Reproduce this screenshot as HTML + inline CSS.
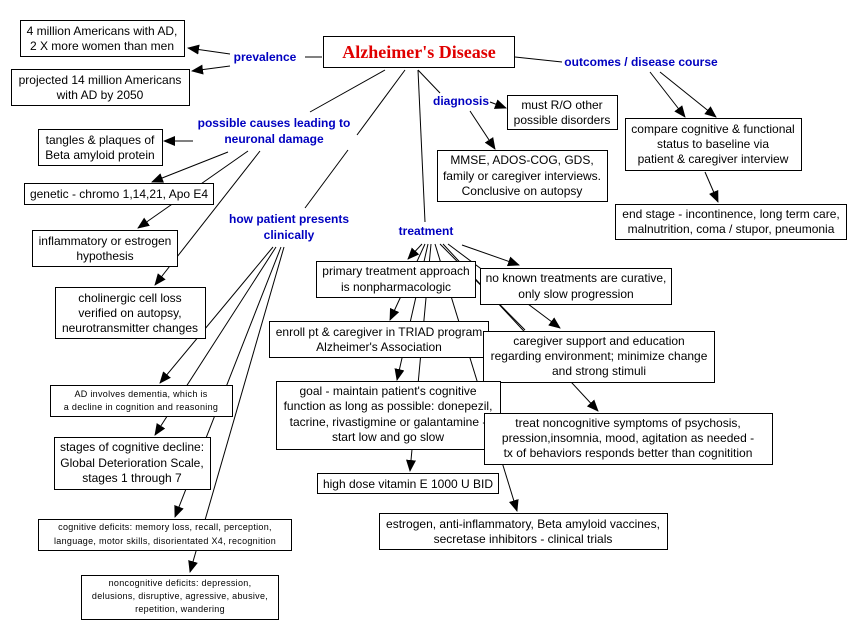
<!DOCTYPE html>
<html><head><meta charset="utf-8"><style>
html,body{margin:0;padding:0;background:#fff}
svg{display:block}
text{font-family:"Liberation Sans",sans-serif;font-size:12px;fill:#000;text-anchor:middle}
.s{font-size:9px;letter-spacing:0.3px}
.l{fill:#0000c0;font-weight:bold;font-size:12px}
rect{fill:#fff;stroke:#000;stroke-width:1}
line{stroke:#000;stroke-width:1}
.a{marker-end:url(#m)}
</style></head><body>
<svg width="849" height="639" viewBox="0 0 849 639" xmlns="http://www.w3.org/2000/svg">
<defs><marker id="m" markerWidth="12" markerHeight="10" refX="11" refY="5" orient="auto" markerUnits="userSpaceOnUse"><path d="M0,0 L12,5 L0,10 z" fill="#000"/></marker></defs>
<!-- lines -->
<line x1="305" y1="57" x2="322" y2="57"/>
<line class="a" x1="230" y1="54" x2="188" y2="48"/>
<line class="a" x1="230" y1="66" x2="192" y2="71"/>
<line x1="515" y1="57" x2="562" y2="62"/>
<line class="a" x1="650" y1="72" x2="685" y2="117"/>
<line class="a" x1="660" y1="72" x2="716" y2="117"/>
<line class="a" x1="705" y1="172" x2="718" y2="202"/>
<line x1="418" y1="70" x2="440" y2="93"/>
<line class="a" x1="490" y1="102" x2="506" y2="108"/>
<line class="a" x1="470" y1="111" x2="495" y2="149"/>
<line x1="385" y1="70" x2="310" y2="112"/>
<line x1="405" y1="70" x2="357" y2="135"/>
<line x1="348" y1="150" x2="305" y2="208"/>
<line x1="418" y1="70" x2="425" y2="222"/>
<line class="a" x1="193" y1="141" x2="164" y2="141"/>
<line class="a" x1="228" y1="152" x2="152" y2="182"/>
<line class="a" x1="248" y1="151" x2="138" y2="228"/>
<line class="a" x1="260" y1="151" x2="155" y2="285"/>
<line class="a" x1="273" y1="247" x2="160" y2="383"/>
<line class="a" x1="276" y1="247" x2="155" y2="435"/>
<line class="a" x1="281" y1="247" x2="175" y2="517"/>
<line class="a" x1="284" y1="247" x2="190" y2="572"/>
<line class="a" x1="422" y1="244" x2="408" y2="259"/>
<line class="a" x1="425" y1="244" x2="390" y2="320"/>
<line class="a" x1="428" y1="244" x2="397" y2="380"/>
<line class="a" x1="431" y1="244" x2="410" y2="471"/>
<line class="a" x1="435" y1="244" x2="517" y2="511"/>
<line x1="440" y1="244" x2="525" y2="330"/>
<line class="a" x1="443" y1="244" x2="598" y2="411"/>
<line class="a" x1="448" y1="244" x2="560" y2="328"/>
<line class="a" x1="462" y1="245" x2="519" y2="265"/>
<!-- boxes -->
<rect x="323.5" y="36.5" width="191" height="31"/>
<text x="419" y="58" style="font-family:'Liberation Serif',serif;font-size:18px;font-weight:bold;fill:#e00000">Alzheimer's Disease</text>
<rect x="20.5" y="20.5" width="164" height="36"/>
<text x="102" y="35">4 million Americans with AD,</text><text x="102" y="50">2 X more women than men</text>
<rect x="11.5" y="69.5" width="178" height="36"/>
<text x="100" y="84">projected 14 million Americans</text><text x="100" y="99">with AD by 2050</text>
<text class="l" x="265" y="61">prevalence</text>
<text class="l" x="641" y="66">outcomes / disease course</text>
<text class="l" x="461" y="105">diagnosis</text>
<rect x="507.5" y="95.5" width="110" height="34"/>
<text x="562" y="109">must R/O other</text><text x="562" y="124">possible disorders</text>
<rect x="437.5" y="150.5" width="170" height="51"/>
<text x="522" y="164">MMSE, ADOS-COG, GDS,</text><text x="522" y="180">family or caregiver interviews.</text><text x="522" y="195">Conclusive on autopsy</text>
<rect x="625.5" y="118.5" width="176" height="52"/>
<text x="713" y="133">compare cognitive &amp; functional</text><text x="713" y="148">status to baseline via</text><text x="713" y="163">patient &amp; caregiver interview</text>
<rect x="615.5" y="204.5" width="231" height="35"/>
<text x="731" y="218">end stage - incontinence, long term care,</text><text x="731" y="233">malnutrition, coma / stupor, pneumonia</text>
<text class="l" x="274" y="127">possible causes leading to</text><text class="l" x="274" y="143">neuronal damage</text>
<rect x="38.5" y="129.5" width="124" height="36"/>
<text x="100" y="144">tangles &amp; plaques of</text><text x="100" y="159">Beta amyloid protein</text>
<rect x="24.5" y="183.5" width="189" height="21"/>
<text x="119" y="198">genetic - chromo 1,14,21, Apo E4</text>
<rect x="32.5" y="230.5" width="145" height="36"/>
<text x="105" y="245">inflammatory or estrogen</text><text x="105" y="260">hypothesis</text>
<rect x="55.5" y="287.5" width="150" height="51"/>
<text x="130" y="302">cholinergic cell loss</text><text x="130" y="317">verified on autopsy,</text><text x="130" y="332">neurotransmitter changes</text>
<text class="l" x="289" y="223">how patient presents</text><text class="l" x="289" y="239">clinically</text>
<text class="l" x="426" y="235">treatment</text>
<rect x="316.5" y="261.5" width="159" height="36"/>
<text x="396" y="275">primary treatment approach</text><text x="396" y="291">is nonpharmacologic</text>
<rect x="480.5" y="268.5" width="191" height="36"/>
<text x="576" y="282">no known treatments are curative,</text><text x="576" y="298">only slow progression</text>
<rect x="269.5" y="321.5" width="219" height="36"/>
<text x="379" y="336">enroll pt &amp; caregiver in TRIAD program</text><text x="379" y="351">Alzheimer's Association</text>
<rect x="483.5" y="331.5" width="231" height="51"/>
<text x="599" y="345">caregiver support and education</text><text x="599" y="360">regarding environment; minimize change</text><text x="599" y="375">and strong stimuli</text>
<rect x="276.5" y="381.5" width="224" height="68"/>
<text x="388" y="395">goal - maintain patient's cognitive</text><text x="388" y="410">function as long as possible: donepezil,</text><text x="388" y="426">tacrine, rivastigmine or galantamine -</text><text x="388" y="441">start low and go slow</text>
<rect x="484.5" y="413.5" width="288" height="51"/>
<text x="628" y="427">treat noncognitive symptoms of psychosis,</text><text x="628" y="442">pression,insomnia, mood, agitation as needed -</text><text x="628" y="457">tx of behaviors responds better than cognitition</text>
<rect x="317.5" y="473.5" width="181" height="20"/>
<text x="408" y="488">high dose vitamin E 1000 U BID</text>
<rect x="379.5" y="513.5" width="288" height="36"/>
<text x="523" y="528">estrogen, anti-inflammatory, Beta amyloid vaccines,</text><text x="523" y="543">secretase inhibitors - clinical trials</text>
<rect x="50.5" y="385.5" width="182" height="31"/>
<text class="s" x="141" y="397">AD involves dementia, which is</text><text class="s" x="141" y="410">a decline in cognition and reasoning</text>
<rect x="54.5" y="437.5" width="156" height="52"/>
<text x="132" y="451">stages of cognitive decline:</text><text x="132" y="467">Global Deterioration Scale,</text><text x="132" y="482">stages 1 through 7</text>
<rect x="38.5" y="519.5" width="253" height="31"/>
<text class="s" x="165" y="530">cognitive deficits: memory loss, recall, perception,</text><text class="s" x="165" y="544">language, motor skills, disorientated X4, recognition</text>
<rect x="81.5" y="575.5" width="197" height="44"/>
<text class="s" x="180" y="586">noncognitive deficits: depression,</text><text class="s" x="180" y="599">delusions, disruptive, agressive, abusive,</text><text class="s" x="180" y="612">repetition, wandering</text>
</svg>
</body></html>
